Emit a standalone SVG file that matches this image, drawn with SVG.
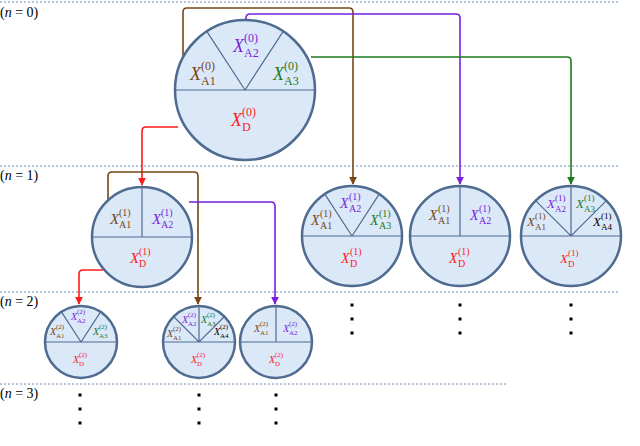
<svg xmlns="http://www.w3.org/2000/svg" width="640" height="446" viewBox="0 0 640 446">
<style>
.c{fill:#dbe8f8;stroke:#4f6b8f;stroke-width:2.5}
.d{stroke:#4f6b8f;stroke-width:1.2;fill:none}
.h{stroke:#6a8ab5;stroke-width:1;stroke-dasharray:2 2}
text{font-family:"Liberation Serif",serif}
.x{font-style:italic}
.br{fill:#774616}.pu{fill:#7a1fdc}.gr{fill:#1c7a1c}.rd{fill:#ff1a1a}.bk{fill:#000}
.a{fill:none;stroke-width:1.6}
.lv{font-size:14px}
</style>
<defs>
<marker id="mb" viewBox="0 0 10 10" refX="9" refY="5" markerWidth="8" markerHeight="8" markerUnits="userSpaceOnUse" orient="auto"><path d="M0,0L10,5L0,10z" fill="#774616"/></marker>
<marker id="mp" viewBox="0 0 10 10" refX="9" refY="5" markerWidth="8" markerHeight="8" markerUnits="userSpaceOnUse" orient="auto"><path d="M0,0L10,5L0,10z" fill="#7a1fdc"/></marker>
<marker id="mg" viewBox="0 0 10 10" refX="9" refY="5" markerWidth="8" markerHeight="8" markerUnits="userSpaceOnUse" orient="auto"><path d="M0,0L10,5L0,10z" fill="#1c7a1c"/></marker>
<marker id="mr" viewBox="0 0 10 10" refX="9" refY="5" markerWidth="8" markerHeight="8" markerUnits="userSpaceOnUse" orient="auto"><path d="M0,0L10,5L0,10z" fill="#ff1a1a"/></marker>
</defs>
<g id="levels">
<line class="h" x1="0" y1="2" x2="620" y2="2"/>
<line class="h" x1="0" y1="166" x2="620" y2="166"/>
<line class="h" x1="0" y1="292" x2="620" y2="292"/>
<line class="h" x1="0" y1="384" x2="506" y2="384"/>
<text class="lv" x="0" y="17">(<tspan class="x">n</tspan> = 0)</text>
<text class="lv" x="0" y="180">(<tspan class="x">n</tspan> = 1)</text>
<text class="lv" x="0" y="306">(<tspan class="x">n</tspan> = 2)</text>
<text class="lv" x="0" y="398">(<tspan class="x">n</tspan> = 3)</text>
</g>
<g id="connectors">
<path class="a" stroke="#774616" marker-end="url(#mb)" d="M183,60 V12 Q183,8 187,8 H349 Q353,8 353,12 V184"/>
<path class="a" stroke="#7a1fdc" marker-end="url(#mp)" d="M246,20 V18 Q246,14 250,14 H456 Q460,14 460,18 V184"/>
<path class="a" stroke="#1c7a1c" marker-end="url(#mg)" d="M311,57 H567 Q571,57 571,61 V184"/>
<path class="a" stroke="#ff1a1a" marker-end="url(#mr)" d="M178,127 H146 Q142,127 142,131 V185"/>
<path class="a" stroke="#774616" marker-end="url(#mb)" d="M108,200 V176 Q108,172 112,172 H194 Q198,172 198,176 V304"/>
<path class="a" stroke="#7a1fdc" marker-end="url(#mp)" d="M189,202 H271 Q275,202 275,206 V304"/>
<path class="a" stroke="#ff1a1a" marker-end="url(#mr)" d="M103,270 H83 Q79,270 79,274 V304"/>
</g>
<g id="n0">
<circle class="c" cx="245" cy="90" r="70"/>
<path class="d" d="M175,90H315M206.8,31.3L245,90L283.2,31.3"/>
<g font-size="18">
<text class="x br" x="190" y="80">X</text><text class="br" font-size="12" x="201" y="70">(0)</text><text class="br" font-size="12" x="201" y="85">A1</text>
<text class="x pu" x="233" y="52">X</text><text class="pu" font-size="12" x="244" y="42">(0)</text><text class="pu" font-size="12" x="244" y="57">A2</text>
<text class="x gr" x="273" y="80">X</text><text class="gr" font-size="12" x="284" y="70">(0)</text><text class="gr" font-size="12" x="284" y="85">A3</text>
<text class="x rd" x="231" y="126">X</text><text class="rd" font-size="12" x="242" y="116">(0)</text><text class="rd" font-size="12" x="242" y="131">D</text>
</g>
</g>
<g id="n1a">
<circle class="c" cx="142" cy="237" r="50"/>
<path class="d" d="M92,237H192M142,187V237"/>
<g font-size="15">
<text class="x br" x="110" y="224">X</text><text class="br" font-size="10" x="119" y="216">(1)</text><text class="br" font-size="10" x="119" y="228">A1</text>
<text class="x pu" x="152" y="224">X</text><text class="pu" font-size="10" x="161" y="216">(1)</text><text class="pu" font-size="10" x="161" y="228">A2</text>
<text class="x rd" x="130" y="263">X</text><text class="rd" font-size="10" x="139" y="255">(1)</text><text class="rd" font-size="10" x="139" y="267">D</text>
</g>
</g>
<g id="n1b">
<circle class="c" cx="352" cy="236" r="50"/>
<path class="d" d="M302,236H402M324.8,194.1L352,236L379.2,194.1"/>
<g font-size="14">
<text class="x br" x="311" y="225">X</text><text class="br" font-size="10" x="320" y="217">(1)</text><text class="br" font-size="10" x="320" y="229">A1</text>
<text class="x pu" x="340" y="208">X</text><text class="pu" font-size="10" x="349" y="200">(1)</text><text class="pu" font-size="10" x="349" y="212">A2</text>
<text class="x gr" x="370" y="225">X</text><text class="gr" font-size="10" x="379" y="217">(1)</text><text class="gr" font-size="10" x="379" y="229">A3</text>
<text class="x rd" x="341" y="263">X</text><text class="rd" font-size="10" x="350" y="255">(1)</text><text class="rd" font-size="10" x="350" y="267">D</text>
</g>
</g>
<g id="n1c">
<circle class="c" cx="460" cy="236" r="50"/>
<path class="d" d="M410,236H510M460,186V236"/>
<g font-size="14">
<text class="x br" x="429" y="220">X</text><text class="br" font-size="10" x="438" y="212">(1)</text><text class="br" font-size="10" x="438" y="224">A1</text>
<text class="x pu" x="470" y="220">X</text><text class="pu" font-size="10" x="479" y="212">(1)</text><text class="pu" font-size="10" x="479" y="224">A2</text>
<text class="x rd" x="449" y="263">X</text><text class="rd" font-size="10" x="458" y="255">(1)</text><text class="rd" font-size="10" x="458" y="267">D</text>
</g>
</g>
<g id="n1d">
<circle class="c" cx="571" cy="236" r="50"/>
<path class="d" d="M521,236H621M535.6,200.6L571,236L606.4,200.6M571,186V236"/>
<g font-size="13">
<text class="x br" x="527" y="226">X</text><text class="br" font-size="9" x="535" y="219">(1)</text><text class="br" font-size="9" x="535" y="230">A1</text>
<text class="x pu" x="547" y="208">X</text><text class="pu" font-size="9" x="555" y="201">(1)</text><text class="pu" font-size="9" x="555" y="212">A2</text>
<text class="x gr" x="576" y="208">X</text><text class="gr" font-size="9" x="584" y="201">(1)</text><text class="gr" font-size="9" x="584" y="212">A3</text>
<text class="x bk" x="593" y="226">X</text><text class="bk" font-size="9" x="601" y="219">(1)</text><text class="bk" font-size="9" x="601" y="230">A4</text>
<text class="x rd" x="560" y="263">X</text><text class="rd" font-size="9" x="568" y="256">(1)</text><text class="rd" font-size="9" x="568" y="267">D</text>
</g>
</g>
<g id="n2a">
<circle class="c" cx="81" cy="342" r="36"/>
<path class="d" d="M45,342H117M61.4,311.8L81,342L100.6,311.8"/>
<g font-size="10">
<text class="x br" x="50" y="335">X</text><text class="br" font-size="7" x="56" y="329">(2)</text><text class="br" font-size="7" x="56" y="338">A1</text>
<text class="x pu" x="71" y="320">X</text><text class="pu" font-size="7" x="77" y="314">(2)</text><text class="pu" font-size="7" x="77" y="323">A2</text>
<text class="x gr" x="93" y="335">X</text><text class="gr" font-size="7" x="99" y="329">(2)</text><text class="gr" font-size="7" x="99" y="338">A3</text>
<text class="x rd" x="73" y="363">X</text><text class="rd" font-size="7" x="79" y="357">(2)</text><text class="rd" font-size="7" x="79" y="366">D</text>
</g>
</g>
<g id="n2b">
<circle class="c" cx="199" cy="342" r="36"/>
<path class="d" d="M163,342H235M173.5,316.5L199,342L224.5,316.5M199,306V342"/>
<g font-size="10">
<text class="x br" x="167" y="337">X</text><text class="br" font-size="7" x="173" y="331">(2)</text><text class="br" font-size="7" x="173" y="340">A1</text>
<text class="x pu" x="182" y="323">X</text><text class="pu" font-size="7" x="188" y="317">(2)</text><text class="pu" font-size="7" x="188" y="326">A2</text>
<text class="x gr" x="201" y="323">X</text><text class="gr" font-size="7" x="207" y="317">(2)</text><text class="gr" font-size="7" x="207" y="326">A3</text>
<text class="x bk" x="214" y="335">X</text><text class="bk" font-size="7" x="220" y="329">(2)</text><text class="bk" font-size="7" x="220" y="338">A4</text>
<text class="x rd" x="191" y="363">X</text><text class="rd" font-size="7" x="197" y="357">(2)</text><text class="rd" font-size="7" x="197" y="366">D</text>
</g>
</g>
<g id="n2c">
<circle class="c" cx="276" cy="342" r="36"/>
<path class="d" d="M240,342H312M276,306V342"/>
<g font-size="10">
<text class="x br" x="254" y="332">X</text><text class="br" font-size="7" x="260" y="326">(2)</text><text class="br" font-size="7" x="260" y="335">A1</text>
<text class="x pu" x="283" y="332">X</text><text class="pu" font-size="7" x="289" y="326">(2)</text><text class="pu" font-size="7" x="289" y="335">A2</text>
<text class="x rd" x="269" y="363">X</text><text class="rd" font-size="7" x="275" y="357">(2)</text><text class="rd" font-size="7" x="275" y="366">D</text>
</g>
</g>
<g id="dots" fill="#000">
<rect x="350.5" y="303.5" width="3" height="3"/><rect x="350.5" y="317.5" width="3" height="3"/><rect x="350.5" y="331.5" width="3" height="3"/>
<rect x="458.5" y="303.5" width="3" height="3"/><rect x="458.5" y="317.5" width="3" height="3"/><rect x="458.5" y="331.5" width="3" height="3"/>
<rect x="569.5" y="303.5" width="3" height="3"/><rect x="569.5" y="317.5" width="3" height="3"/><rect x="569.5" y="331.5" width="3" height="3"/>
<rect x="78.5" y="393.5" width="3" height="3"/><rect x="78.5" y="407.5" width="3" height="3"/><rect x="78.5" y="421.5" width="3" height="3"/>
<rect x="197.5" y="393.5" width="3" height="3"/><rect x="197.5" y="407.5" width="3" height="3"/><rect x="197.5" y="421.5" width="3" height="3"/>
<rect x="274.5" y="393.5" width="3" height="3"/><rect x="274.5" y="407.5" width="3" height="3"/><rect x="274.5" y="421.5" width="3" height="3"/>
</g>
</svg>
